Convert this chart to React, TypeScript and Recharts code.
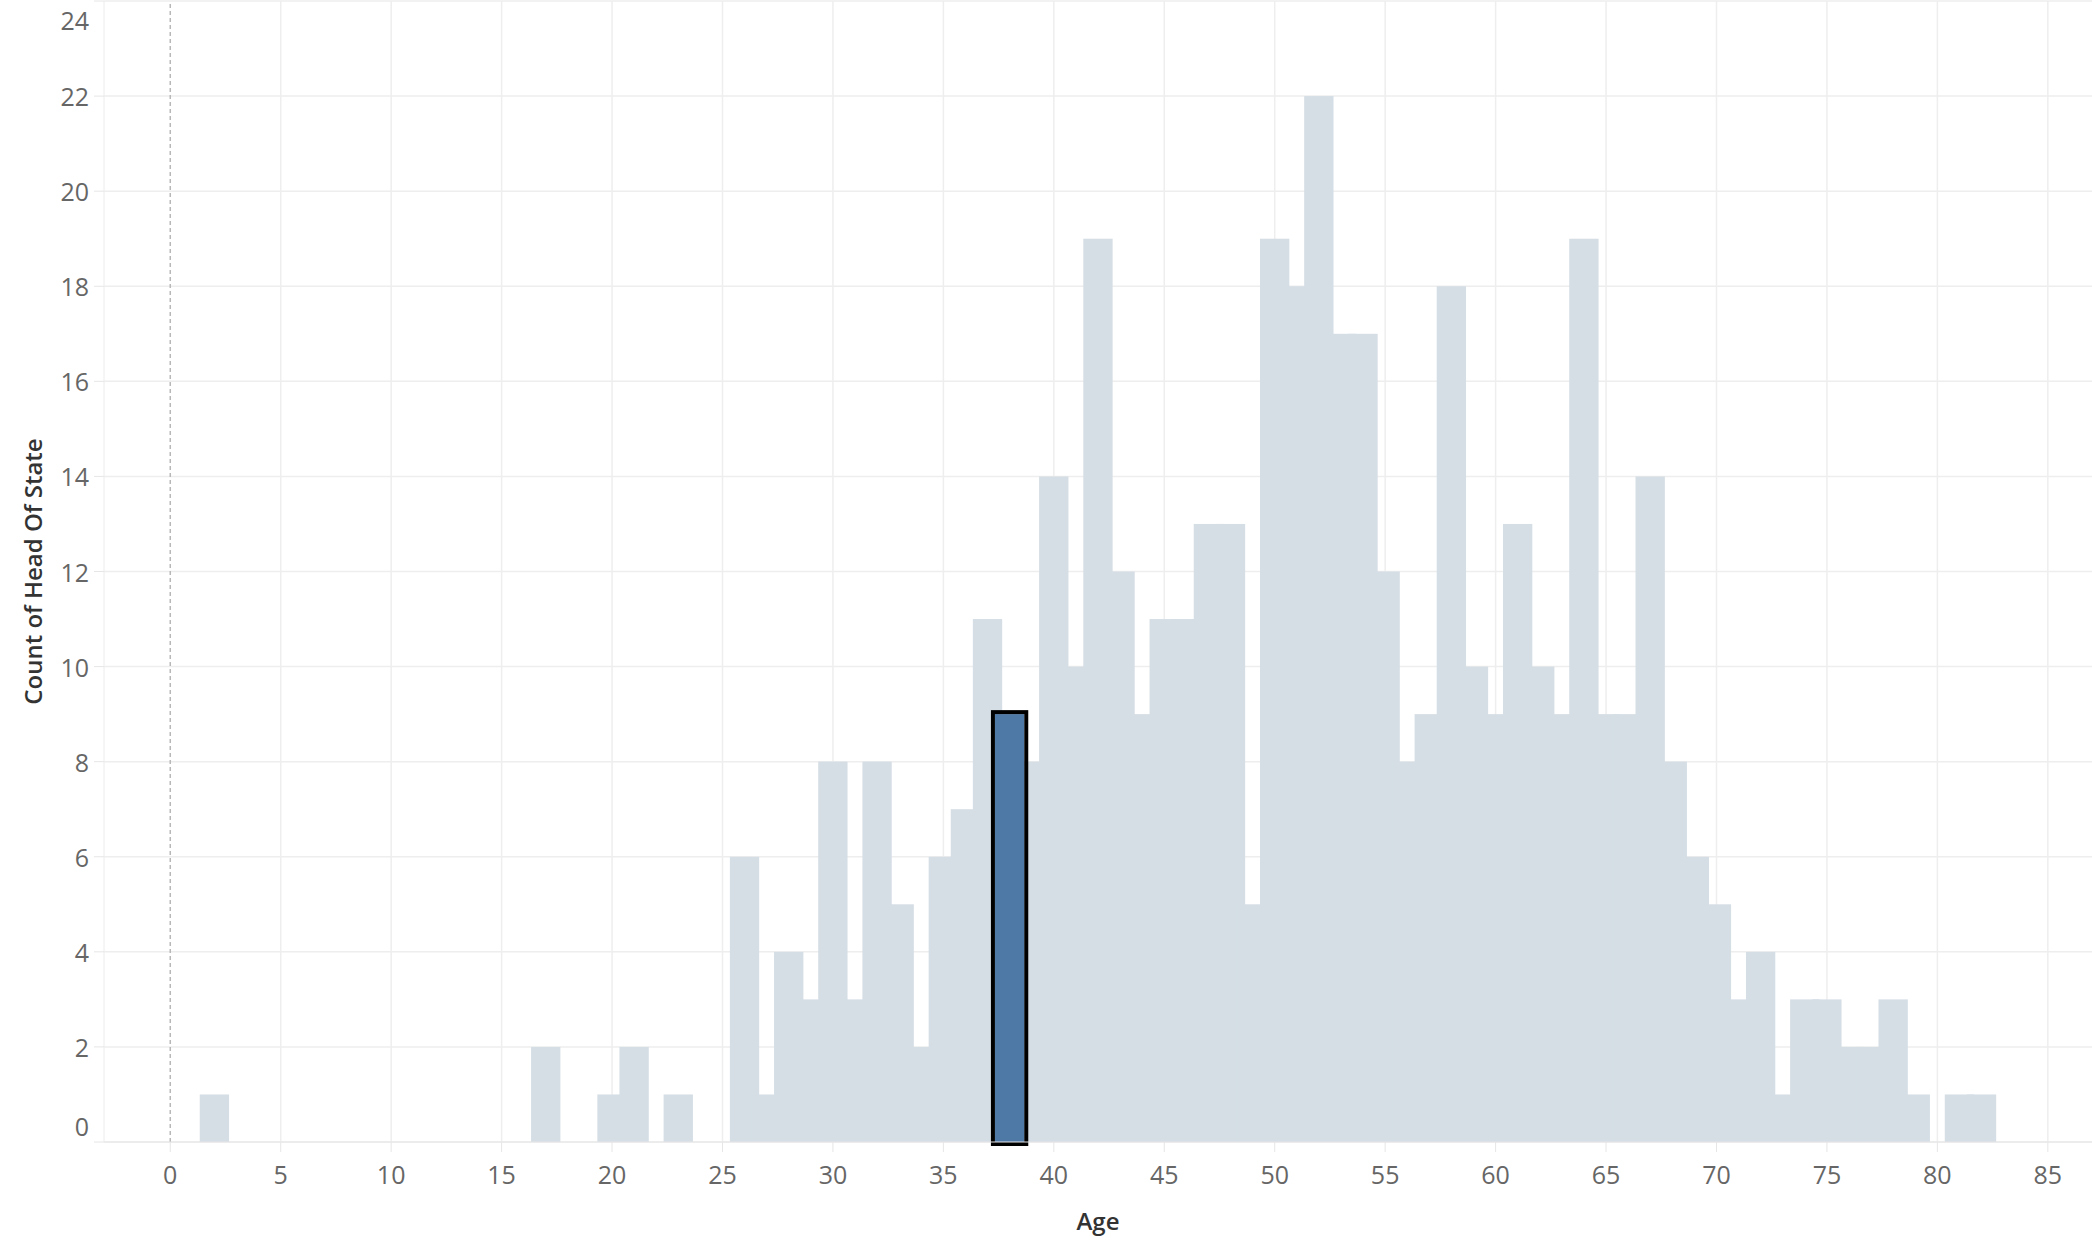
import React from "react";
import {
  ComposedChart,
  Bar,
  XAxis,
  YAxis,
  CartesianGrid,
  ReferenceLine,
} from "recharts";

const ages = [
  2, 17, 20, 21, 23, 26, 27, 28, 29, 30, 31, 32, 33, 34, 35, 36, 37, 38, 39, 40,
  41, 42, 43, 44, 45, 46, 47, 48, 49, 50, 51, 52, 53, 54, 55, 56, 57, 58, 59, 60,
  61, 62, 63, 64, 65, 66, 67, 68, 69, 70, 71, 72, 73, 74, 75, 76, 77, 78, 79, 81,
  82,
];
const counts = [
  1, 2, 1, 2, 1, 6, 1, 4, 3, 8, 3, 8, 5, 2, 6, 7, 11, 9, 8, 14,
  10, 19, 12, 9, 11, 11, 13, 13, 5, 19, 18, 22, 17, 17, 12, 8, 9, 18, 10, 9,
  13, 10, 9, 19, 9, 9, 14, 8, 6, 5, 3, 4, 1, 3, 3, 2, 2, 3, 1, 1,
  1,
];
const highlightedAge = 38;
const xTicks = [0, 5, 10, 15, 20, 25, 30, 35, 40, 45, 50, 55, 60, 65, 70, 75, 80, 85];
const gridX = [5, 10, 15, 20, 25, 30, 35, 40, 45, 50, 55, 60, 65, 70, 75, 80, 85];
const yTicks = [0, 2, 4, 6, 8, 10, 12, 14, 16, 18, 20, 22, 24];

// highlighted bin is placed last so it is painted on top of its neighbours
const data = ages
  .map((age, i) => ({ age, count: counts[i] }))
  .sort((a, b) => (a.age === highlightedAge ? 1 : 0) - (b.age === highlightedAge ? 1 : 0));

const FONT = "'Open Sans', 'Noto Sans', sans-serif";
const BAR_SCALE = 4 / 3;

const HistBar = (props: any) => {
  const { x, y, width, height, payload } = props;
  if (!height || height <= 0) return null;
  const cx = x + width / 2;
  const w = width * BAR_SCALE;
  if (payload && payload.age === highlightedAge) {
    return (
      <g>
        <rect x={cx - w / 2} y={y} width={w} height={height} fill="#4e79a7" />
        <rect
          x={cx - w / 2 - 2}
          y={y - 2}
          width={w + 4}
          height={height + 4}
          fill="none"
          stroke="#000000"
          strokeWidth={4}
        />
      </g>
    );
  }
  return <rect x={cx - w / 2} y={y} width={w} height={height} fill="#d5dee5" />;
};

const YTick = (props: any) => {
  const { x, y, payload } = props;
  let dy = 0;
  if (payload.value === 24) dy = 19;
  if (payload.value === 0) dy = -16;
  return (
    <text
      x={x}
      y={y + dy}
      textAnchor="end"
      dominantBaseline="central"
      fill="#666666"
      fontSize={25}
      fontFamily={FONT}
    >
      {payload.value}
    </text>
  );
};

const XTick = (props: any) => {
  const { x, y, payload } = props;
  return (
    <text
      x={x}
      y={y}
      dy="0.71em"
      textAnchor="middle"
      fill="#666666"
      fontSize={25}
      fontFamily={FONT}
    >
      {payload.value}
    </text>
  );
};

export default function App() {
  return (
    <div style={{ position: "absolute", left: 0, top: 0, width: 2092, height: 1252, background: "#ffffff" }}>
      <ComposedChart
        width={2092}
        height={1252}
        data={data}
        margin={{ top: 1, right: 0, bottom: 0, left: 0 }}
        barCategoryGap={0}
        barGap={0}
      >
        <CartesianGrid
          stroke="#eeeeee"
          strokeWidth={1.5}
          verticalValues={gridX}
          horizontalValues={yTicks}
        />
        <XAxis
          dataKey="age"
          type="number"
          domain={[-3, 87]}
          ticks={xTicks}
          interval={0}
          allowDataOverflow
          height={110}
          stroke="#e6e6e6"
          tickLine={{ stroke: "#e6e6e6" }}
          tickSize={10}
          tickMargin={14}
          tick={<XTick />}
          label={{
            content: (p: any) => {
              const vb = p.viewBox || { x: 104, y: 1142, width: 1988 };
              return (
                <text
                  x={vb.x + vb.width / 2}
                  y={vb.y + 88}
                  textAnchor="middle"
                  fill="#333333"
                  fontSize={24}
                  fontWeight={600}
                  fontFamily={FONT}
                >
                  Age
                </text>
              );
            },
          }}
        />
        <YAxis
          type="number"
          domain={[0, 24]}
          ticks={yTicks}
          interval={0}
          width={104}
          stroke="#ececec"
          tickLine={{ stroke: "#e6e6e6" }}
          tickSize={10}
          tickMargin={5}
          tick={<YTick />}
          label={{
            content: (p: any) => {
              const vb = p.viewBox || { x: 0, y: 1, width: 104, height: 1141 };
              const cx = vb.x + 32;
              const cy = vb.y + vb.height / 2;
              return (
                <text
                  x={cx}
                  y={cy}
                  transform={`rotate(-90, ${cx}, ${cy})`}
                  textAnchor="middle"
                  dominantBaseline="central"
                  fill="#333333"
                  fontSize={24}
                  fontWeight={600}
                  fontFamily={FONT}
                >
                  Count of Head Of State
                </text>
              );
            },
          }}
        />
        <ReferenceLine
          x={0}
          stroke="#b8b8b8"
          strokeWidth={1.5}
          strokeDasharray="4 3"
        />
        <Bar dataKey="count" shape={<HistBar />} isAnimationActive={false} />
      </ComposedChart>
    </div>
  );
}
